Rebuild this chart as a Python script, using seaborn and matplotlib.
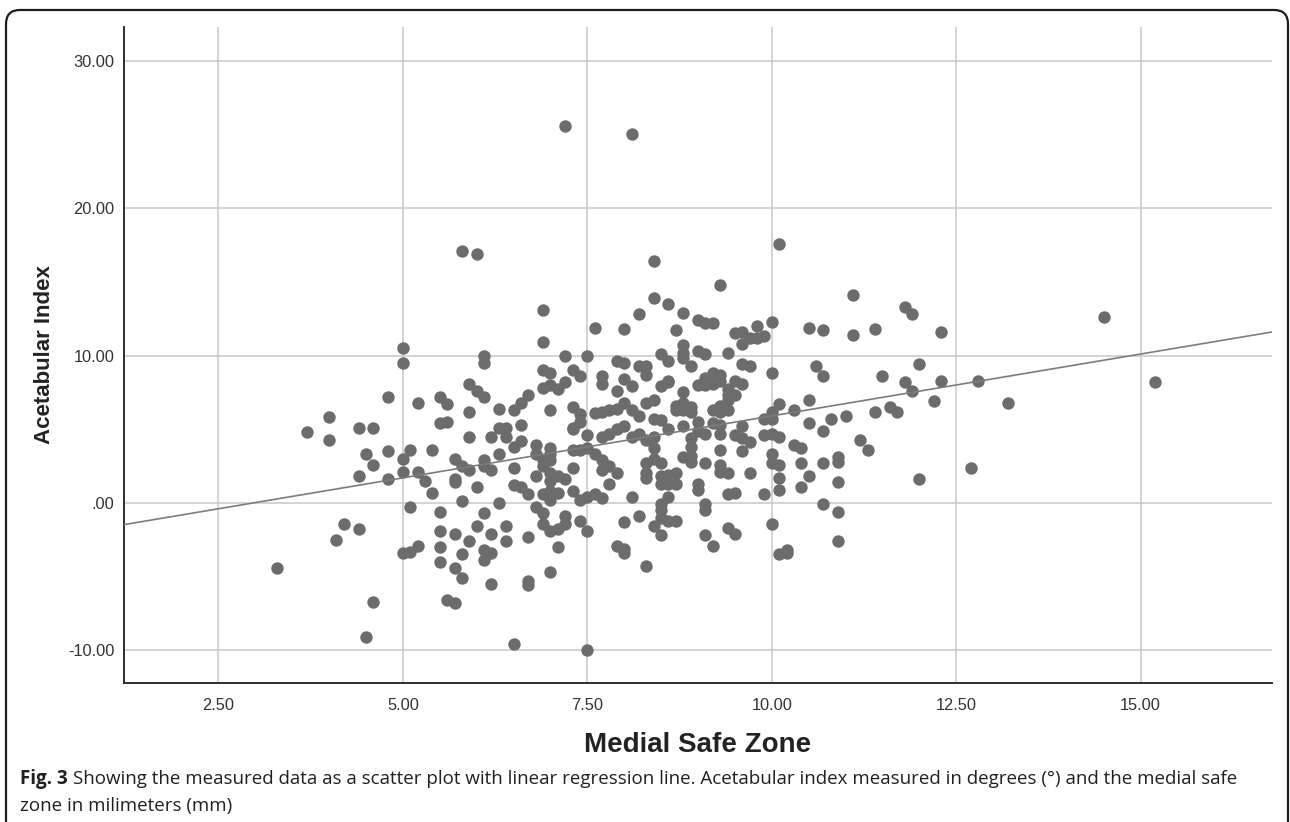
#!/usr/bin/env python3

import matplotlib

matplotlib.use("Agg")

import matplotlib.pyplot as plt
import pandas as pd
import seaborn as sns
from matplotlib.patches import FancyBboxPatch
from matplotlib.transforms import IdentityTransform


X_LABEL = "Medial Safe Zone"
Y_LABEL = "Acetabular Index"
X_TICKS = [2.5, 5.0, 7.5, 10.0, 12.5, 15.0]
X_TICK_LABELS = ["2.50", "5.00", "7.50", "10.00", "12.50", "15.00"]
Y_TICKS = [-10, 0, 10, 20, 30]
Y_TICK_LABELS = ["-10.00", ".00", "10.00", "20.00", "30.00"]
X_RANGE = (1.22, 16.78)
Y_RANGE = (-12.22, 32.29)

CAPTION_BOLD = "Fig. 3"
CAPTION_LINE1 = ("Showing the measured data as a scatter plot with linear regression line. "
                 "Acetabular index measured in degrees (°) and the medial safe")
CAPTION_LINE2 = "zone in milimeters (mm)"

# (medial safe zone mm, acetabular index deg)
points_left = [
    (5.0, 9.5), (5.9, 8.1), (4.8, 7.2), (5.2, 6.8), (5.5, 7.2), (5.6, 6.7),
    (5.9, 6.2), (5.5, 5.4), (5.6, 5.5), (5.9, 4.5), (4.0, 5.8), (3.7, 4.8),
    (4.0, 4.3), (4.4, 5.1), (4.6, 5.1), (4.5, 3.3), (4.6, 2.6), (4.8, 3.5),
    (4.4, 1.8), (4.8, 1.6), (5.0, 3.0), (5.1, 3.6), (5.0, 2.1), (5.2, 2.1),
    (5.3, 1.5), (5.4, 3.6), (5.4, 0.7), (5.7, 3.0), (5.8, 2.5), (5.9, 2.2),
    (5.7, 1.6), (5.7, 1.4), (5.8, 0.1), (5.1, -0.3), (5.5, -0.6), (4.2, -1.4),
    (4.4, -1.8), (4.1, -2.5), (5.0, -3.4), (5.1, -3.3), (5.2, -2.9), (5.5, -1.9),
    (5.7, -2.1), (5.9, -2.6), (5.5, -3.0), (5.5, -4.0), (5.8, -3.5), (5.7, -4.4),
    (5.8, -5.1), (3.3, -4.4), (4.6, -6.7), (5.6, -6.6), (5.7, -6.8), (4.5, -9.1),
]

points_mid_left = [
    (6.1, 9.5), (6.1, 7.2), (6.9, 9.0), (7.0, 8.8), (7.3, 9.0), (7.4, 8.6),
    (7.7, 8.6), (7.7, 8.1), (7.9, 9.6), (8.0, 9.5), (8.2, 9.3), (8.3, 9.3),
    (8.3, 8.7), (6.9, 7.8), (7.0, 8.0), (7.1, 7.7), (7.2, 8.2), (7.9, 7.6),
    (8.0, 8.4), (8.1, 7.9), (6.7, 7.3), (6.6, 6.8), (6.5, 6.3), (6.3, 6.4),
    (7.0, 6.3), (7.3, 6.5), (7.4, 6.0), (7.6, 6.1), (7.7, 6.2), (7.8, 6.3),
    (7.9, 6.4), (8.0, 6.8), (8.1, 6.3), (8.2, 5.9), (8.3, 6.8), (6.3, 5.1),
    (6.4, 5.1), (6.4, 4.5), (6.2, 4.5), (6.6, 5.3), (6.5, 3.8), (6.6, 4.2),
    (6.8, 3.9), (7.0, 3.7), (7.0, 3.3), (7.3, 5.0), (7.5, 4.6), (7.4, 5.5),
    (7.3, 5.1), (7.7, 4.5), (7.8, 4.7), (7.9, 5.0), (8.0, 5.2), (8.1, 4.5),
    (8.2, 4.7), (8.3, 4.3), (8.4, 4.5), (6.1, 2.9), (6.1, 2.5), (6.2, 2.2),
    (6.3, 3.3), (6.5, 2.4), (6.8, 3.3), (6.9, 2.9), (6.9, 2.5), (7.0, 2.9),
    (7.0, 2.0), (7.3, 3.6), (7.4, 3.6), (7.5, 3.7), (7.6, 3.3), (7.7, 2.9),
    (7.7, 2.2), (7.8, 2.5), (7.9, 2.0), (7.3, 2.4), (8.3, 2.7), (8.3, 2.0),
    (6.0, 1.1), (6.5, 1.2), (6.6, 1.1), (6.7, 0.6), (6.8, 1.8), (7.0, 1.5),
    (7.1, 1.8), (7.2, 1.6), (6.9, 0.6), (7.0, 0.8), (7.1, 0.7), (7.0, 0.2),
    (7.3, 0.8), (7.4, 0.2), (7.5, 0.4), (7.6, 0.6), (7.7, 0.3), (7.8, 1.3),
    (8.1, 0.4), (8.3, 1.7), (6.3, 0.0), (6.1, -0.7), (6.0, -1.6), (6.2, -2.1),
    (6.4, -1.6), (6.4, -2.6), (6.7, -2.3), (6.8, -0.3), (6.9, -0.7), (6.9, -1.4),
    (7.0, -1.9), (7.1, -1.8), (7.2, -0.9), (7.2, -1.4), (7.4, -1.2), (7.5, -1.9),
    (7.1, -3.0), (6.1, -3.2), (6.2, -3.4), (7.9, -2.9), (8.0, -3.1), (8.0, -3.4),
    (8.0, -1.3), (8.2, -0.9), (6.0, 7.6),
    (6.1, -3.9), (6.2, -5.5), (6.7, -5.3), (6.7, -5.6), (7.0, -4.7), (6.5, -9.6),
    (7.5, -10.0), (8.3, -4.3),
]

points_upper = [
    (7.2, 25.6), (8.1, 25.0), (5.8, 17.1), (6.0, 16.9), (6.9, 13.1), (6.9, 10.9),
    (7.6, 11.9), (8.0, 11.8), (8.2, 12.8), (5.0, 10.5), (6.1, 10.0), (7.2, 10.0),
    (7.5, 10.0), (10.1, 17.6), (8.4, 16.4), (9.3, 14.8), (11.1, 14.1), (8.4, 13.9),
    (8.6, 13.5), (8.8, 12.9), (9.0, 12.4), (9.1, 12.2), (9.2, 12.2), (8.7, 11.7),
    (9.5, 11.5), (9.6, 11.6), (9.8, 12.0), (10.0, 12.3), (9.7, 11.2), (9.8, 11.2),
    (9.9, 11.3), (10.5, 11.9), (10.7, 11.7), (11.1, 11.4), (11.4, 11.8), (11.8, 13.3),
    (11.9, 12.8), (12.3, 11.6),
]

points_mid_right = [
    (9.6, 10.8), (8.5, 10.1), (8.6, 9.6), (8.8, 10.7), (8.8, 10.2), (8.8, 9.8),
    (8.9, 9.3), (9.0, 10.3), (9.1, 10.1), (9.4, 10.2), (9.6, 9.4), (9.7, 9.3),
    (10.0, 8.8), (10.6, 9.3), (8.5, 7.9), (8.6, 8.2), (8.6, 8.3), (8.8, 7.5),
    (9.0, 8.0), (9.1, 8.5), (9.2, 8.8), (9.3, 8.7), (9.1, 8.0), (9.2, 8.1),
    (9.3, 8.3), (9.4, 7.7), (9.5, 8.3), (9.6, 8.1), (9.5, 7.3), (8.4, 7.0),
    (8.7, 6.6), (8.8, 6.8), (8.9, 6.5), (8.7, 6.3), (8.8, 6.3), (8.9, 6.2),
    (9.2, 6.3), (9.3, 6.6), (9.4, 7.0), (9.4, 7.3), (9.3, 6.2), (9.4, 6.3),
    (10.1, 6.7), (10.3, 6.3), (10.5, 7.0), (10.0, 6.2), (9.9, 5.7), (10.0, 5.7),
    (10.5, 5.4), (8.4, 5.7), (8.5, 5.6), (8.8, 5.2), (9.0, 5.5), (9.0, 4.9),
    (9.1, 4.7), (9.2, 5.4), (9.3, 5.3), (9.3, 4.7), (9.6, 5.2), (8.6, 5.0),
    (8.9, 4.4), (8.9, 3.8), (8.9, 3.2), (8.8, 3.1), (8.9, 2.8), (9.5, 4.6),
    (9.6, 4.4), (9.7, 4.1), (9.3, 3.6), (9.6, 3.5), (9.9, 4.6), (10.0, 4.7),
    (10.1, 4.5), (10.3, 3.9), (10.4, 3.7), (8.4, 3.7), (10.0, 3.3), (10.0, 2.7),
    (10.1, 2.6), (10.4, 2.7), (9.1, 2.7), (9.3, 2.6), (9.3, 2.1), (9.4, 2.0),
    (9.7, 2.0), (8.4, 3.0), (8.5, 2.7), (8.5, 1.8), (8.6, 1.9), (8.7, 2.0),
    (8.5, 1.3), (8.6, 1.3), (8.7, 1.3), (9.0, 1.3), (9.0, 0.9), (10.1, 1.7),
    (10.1, 0.9), (10.5, 1.8), (10.4, 1.1), (9.4, 0.6), (9.5, 0.7), (9.9, 0.6),
    (8.5, -0.1), (8.6, 0.4), (9.1, -0.1), (9.1, -0.5), (8.5, -0.5), (8.5, -1.0),
    (8.6, -1.2), (8.7, -1.2), (10.0, -1.4), (10.7, -0.1), (8.4, -1.6), (9.4, -1.7),
    (8.5, -2.2), (9.1, -2.2), (9.2, -2.9), (9.5, -2.1), (10.1, -3.5), (10.2, -3.2),
    (10.2, -3.4), (10.9, -2.6),
]

points_right = [
    (10.7, 8.6), (11.5, 8.6), (12.0, 9.4), (11.8, 8.2), (11.9, 7.6), (12.3, 8.3),
    (12.8, 8.3), (12.2, 6.9), (10.8, 5.7), (11.0, 5.9), (10.7, 4.9), (11.4, 6.2),
    (11.6, 6.5), (11.7, 6.2), (11.2, 4.3), (11.3, 3.6), (10.7, 2.7), (10.9, 3.1),
    (10.9, 2.8), (10.9, 1.4), (12.7, 2.4), (12.0, 1.6), (10.9, -0.6),
    (14.5, 12.6), (15.2, 8.2), (13.2, 6.8),
]

FIG_W, FIG_H = 1290, 822
DOT_COLOR = "#6c6c6c"
LINE_COLOR = "#7c7c7c"
GRID_COLOR = "#c8c8c8"
AXIS_COLOR = "#2e2e2e"
TEXT_COLOR = "#333333"


def main() -> None:
    sns.set_style("white")
    plt.rcParams["font.family"] = ["Liberation Sans", "DejaVu Sans"]

    rows = points_left + points_mid_left + points_upper + points_mid_right + points_right
    data = pd.DataFrame(rows, columns=["safe_zone", "acetabular_index"])

    fig = plt.figure(figsize=(FIG_W / 100, FIG_H / 100), dpi=100)
    ax = fig.add_axes([124 / FIG_W, 139 / FIG_H, 1148 / FIG_W, 656 / FIG_H])
    ax.set_xlim(*X_RANGE)
    ax.set_ylim(*Y_RANGE)

    sns.scatterplot(
        data=data, x="safe_zone", y="acetabular_index", ax=ax,
        color=DOT_COLOR, s=80, linewidth=0, zorder=3,
    )
    sns.regplot(
        data=data, x="safe_zone", y="acetabular_index", ax=ax,
        scatter=False, ci=None, truncate=False,
        line_kws={"color": LINE_COLOR, "linewidth": 1.2, "zorder": 4},
    )
    ax.set_xlim(*X_RANGE)
    ax.set_ylim(*Y_RANGE)

    ax.set_xticks(X_TICKS, X_TICK_LABELS)
    ax.set_yticks(Y_TICKS, Y_TICK_LABELS)
    ax.grid(True, color=GRID_COLOR, linewidth=1.1)
    ax.set_axisbelow(True)
    ax.tick_params(length=0, labelsize=11.8, labelcolor=TEXT_COLOR)
    ax.tick_params(axis="x", pad=11)
    ax.tick_params(axis="y", pad=7)

    for side in ["top", "right"]:
        ax.spines[side].set_visible(False)
    for side in ["left", "bottom"]:
        ax.spines[side].set_color(AXIS_COLOR)
        ax.spines[side].set_linewidth(1.4)

    ax.set_xlabel(X_LABEL, fontsize=20, fontweight="bold", color="#222222", va="center")
    ax.xaxis.set_label_coords(0.5, (683 - 745) / 656)
    ax.set_ylabel(Y_LABEL, fontsize=16, fontweight="bold", color="#222222", va="center")
    ax.yaxis.set_label_coords((45 - 124) / 1148, 0.5)

    frame = FancyBboxPatch(
        (6, -30), 1282, FIG_H - 10 + 30,
        boxstyle="round,pad=0,rounding_size=14",
        transform=IdentityTransform(), fill=False,
        edgecolor="#1e1e1e", linewidth=1.6,
    )
    fig.add_artist(frame)

    cap_font = ["Open Sans", "DejaVu Sans"]
    cap_size = 13.5
    y1 = 1 - 779 / FIG_H
    y2 = 1 - 806 / FIG_H
    bold = fig.text(20 / FIG_W, y1, CAPTION_BOLD, family=cap_font, fontsize=cap_size,
                    fontweight="bold", color="#231f20", va="center")
    renderer = fig.canvas.get_renderer()
    x_end = bold.get_window_extent(renderer=renderer).x1
    fig.text((x_end + 5) / FIG_W, y1, CAPTION_LINE1, family=cap_font, fontsize=cap_size,
             color="#231f20", va="center")
    fig.text(20 / FIG_W, y2, CAPTION_LINE2, family=cap_font, fontsize=cap_size,
             color="#231f20", va="center")

    fig.savefig("out.png", dpi=100)
    plt.close(fig)


if __name__ == "__main__":
    main()
